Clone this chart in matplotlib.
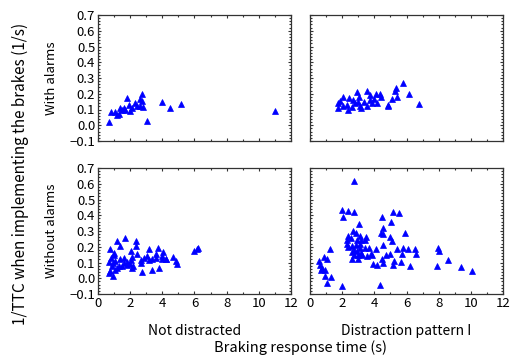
import matplotlib
matplotlib.use('Agg')
import matplotlib.pyplot as plt
from matplotlib.ticker import MultipleLocator

plt.rcParams['font.family'] = ['Noto Sans CJK JP', 'DejaVu Sans']

# with alarms, not distracted
wa_nd_x = [0.7, 1.78, 2.76, 2.61, 2.76, 3.07, 4.0, 4.5, 5.14, 11.0,
           0.81, 1.08, 1.29, 1.35, 1.6, 1.9, 1.98, 2.13, 2.33, 2.43,
           2.6, 2.8, 1.18, 1.5, 1.7]
wa_nd_y = [0.02, 0.17, 0.20, 0.167, 0.154, 0.027, 0.15, 0.107, 0.133, 0.092,
           0.085, 0.085, 0.074, 0.107, 0.107, 0.13, 0.09, 0.11, 0.14, 0.12,
           0.12, 0.115, 0.063, 0.10, 0.10]

# with alarms, distraction pattern I
wa_dp_x = [5.8, 5.35, 5.3, 6.16, 6.76, 5.4, 5.12, 4.87, 4.87, 4.35,
           4.08, 4.4, 3.54, 3.7, 2.9, 3.05, 2.07, 2.45, 1.85, 1.75,
           1.71, 2.38, 2.59, 2.8, 3.1, 3.33, 3.54, 3.85, 3.96, 4.17,
           2.28, 2.07, 2.7, 3.0, 3.2, 3.75]
wa_dp_y = [0.27, 0.235, 0.22, 0.196, 0.137, 0.18, 0.165, 0.128, 0.122, 0.2,
           0.2, 0.18, 0.217, 0.19, 0.209, 0.18, 0.18, 0.17, 0.154, 0.14,
           0.107, 0.096, 0.116, 0.14, 0.12, 0.15, 0.125, 0.14, 0.164, 0.14,
           0.13, 0.12, 0.16, 0.15, 0.11, 0.16]

# without alarms, not distracted
na_nd_x = [1.68, 1.16, 1.34, 2.34, 2.34, 2.03, 3.75, 3.19, 4.02, 6.14,
           6.24, 6.0, 0.75, 0.91, 0.68, 2.76, 3.38, 3.82, 4.9, 4.88,
           4.68, 4.2, 4.0, 3.6, 3.38, 3.07, 2.86, 2.65, 2.45, 2.12,
           2.03, 1.8, 2.12, 1.6, 1.5, 1.28, 1.07, 0.87, 0.66, 0.8,
           0.97, 1.07, 1.34, 1.6, 1.8, 1.96, 2.2, 0.75, 1.16, 0.91,
           1.0, 2.65, 3.17, 3.6, 4.0, 4.2]
na_nd_y = [0.254, 0.236, 0.207, 0.238, 0.207, 0.175, 0.194, 0.183, 0.169, 0.183,
           0.19, 0.17, 0.183, 0.014, 0.035, 0.042, 0.052, 0.062, 0.088, 0.11,
           0.137, 0.12, 0.14, 0.13, 0.125, 0.14, 0.13, 0.10, 0.157, 0.137,
           0.117, 0.085, 0.063, 0.095, 0.08, 0.075, 0.052, 0.075, 0.105, 0.126,
           0.147, 0.11, 0.12, 0.13, 0.105, 0.09, 0.08, 0.044, 0.063, 0.095,
           0.16, 0.117, 0.117, 0.157, 0.125, 0.12]

# without alarms, distraction pattern I
na_dp_x = [2.74, 1.99, 2.34, 2.71, 2.05, 5.16, 5.56, 4.5, 5.04, 3.05,
           4.52, 4.4, 4.52, 5.9, 2.67, 2.84, 3.1, 3.48, 5.0, 5.1,
           2.38, 2.28, 2.55, 2.9, 3.17, 3.42, 2.28, 2.59, 2.84, 3.1,
           4.56, 1.24, 2.75, 3.1, 3.42, 3.69, 4.1, 5.43, 5.8, 6.07,
           6.55, 7.94, 8.02, 6.59, 5.72, 4.97, 4.72, 4.45, 3.79, 3.83,
           3.52, 3.15, 3.01, 2.71, 2.59, 3.01, 3.22, 3.94, 4.19, 4.56,
           5.18, 5.22, 5.64, 6.2, 7.9, 8.58, 9.41, 10.07, 0.58, 0.62,
           0.87, 1.03, 0.72, 0.93, 0.68, 0.95, 1.28, 1.06, 1.97, 4.33,
           2.59, 2.9, 2.38]
na_dp_y = [0.62, 0.433, 0.427, 0.423, 0.387, 0.42, 0.416, 0.39, 0.357, 0.342,
           0.317, 0.29, 0.28, 0.285, 0.3, 0.29, 0.27, 0.26, 0.26, 0.236,
           0.27, 0.245, 0.255, 0.245, 0.245, 0.245, 0.215, 0.204, 0.21, 0.217,
           0.21, 0.186, 0.18, 0.19, 0.19, 0.193, 0.187, 0.183, 0.193, 0.183,
           0.183, 0.19, 0.17, 0.155, 0.157, 0.157, 0.145, 0.125, 0.155, 0.147,
           0.14, 0.16, 0.145, 0.145, 0.125, 0.125, 0.15, 0.09, 0.085, 0.10,
           0.085, 0.11, 0.103, 0.08, 0.08, 0.116, 0.07, 0.046, 0.111, 0.085,
           0.135, 0.12, 0.065, 0.055, 0.055, 0.015, 0.01, -0.032, -0.049, -0.043,
           0.165, 0.175, 0.196]

panels = [[(wa_nd_x, wa_nd_y), (wa_dp_x, wa_dp_y)],
          [(na_nd_x, na_nd_y), (na_dp_x, na_dp_y)]]
row_labels = ['With alarms', 'Without alarms']
col_labels = ['Not distracted', 'Distraction pattern I']

fig = plt.figure(figsize=(5.13, 3.56), dpi=100)
W, H = 513.0, 356.0
lefts = [98, 310]
tops = [15, 168]
aw, ah = 193, 126

for r in range(2):
    for c in range(2):
        ax = fig.add_axes([lefts[c] / W, 1 - (tops[r] + ah) / H, aw / W, ah / H])
        x, y = panels[r][c]
        ax.plot(x, y, '^', color='#0000ff', markersize=3.8, markeredgewidth=0.5)
        ax.set_xlim(0, 12)
        ax.set_ylim(-0.1, 0.7)
        ax.xaxis.set_major_locator(MultipleLocator(2))
        ax.xaxis.set_minor_locator(MultipleLocator(1))
        ax.yaxis.set_major_locator(MultipleLocator(0.1))
        ax.yaxis.set_minor_locator(MultipleLocator(0.02))
        ax.tick_params(which='both', direction='in', top=True, right=True,
                       labelsize=9.5, width=0.8, colors='#333333', labelcolor='black')
        ax.tick_params(which='major', length=2.5, pad=2)
        ax.tick_params(which='minor', length=1.5)
        for s in ax.spines.values():
            s.set_linewidth(0.9)
            s.set_color('#333333')
        if r == 0:
            ax.set_xticklabels([])
        if c == 1:
            ax.set_yticklabels([])
        else:
            ax.set_yticklabels(['%.1f' % v if v >= 0 else '\u22120.1'
                                for v in ax.get_yticks()])
            ax.set_ylabel(row_labels[r], fontsize=9.5, labelpad=8)
        if r == 1:
            ax.set_xlabel(col_labels[c], fontsize=10, labelpad=10)

fig.text(0.5 * (98 + 503) / W, 1 - 348 / H, 'Braking response time (s)',
         ha='center', va='center', fontsize=10.5)
fig.text(20 / W, 1 - 174 / H, '1/TTC when implementing the brakes (1/s)',
         ha='center', va='center', rotation=90, fontsize=11)

fig.savefig('out.png', dpi=100)
